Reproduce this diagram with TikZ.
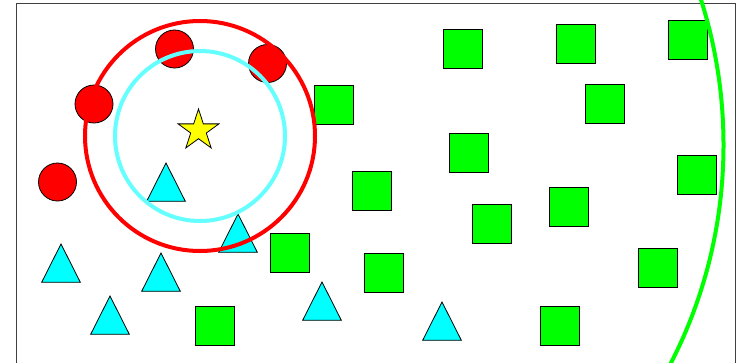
\documentclass[tikz,border=0pt]{standalone}
\usepackage{tikz}
\usetikzlibrary{shapes.geometric}
\definecolor{ringcyan}{RGB}{102,255,255}
\definecolor{tricyan}{RGB}{0,255,255}
\definecolor{starfill}{RGB}{255,255,0}
\tikzset{
  dot/.style={circle, draw, fill=red, minimum size=38pt, inner sep=0pt, line width=0.8pt},
  box/.style={rectangle, draw, fill=green, minimum size=39pt, inner sep=0pt, line width=0.8pt},
  tri/.style={draw, fill=tricyan, line width=0.8pt, line join=miter},
  ring/.style={line width=4pt}
}

\begin{document}
\begin{tikzpicture}[x=1pt, y=-1pt]
    \useasboundingbox (0,0) rectangle (738,362);
    \clip (0,0) rectangle (738,362);
    \draw[black!75, line width=1pt] (16,3) rectangle (735,390);
    % red dots
    \node[dot] (d1) at (174.5,49) {};
    \node[dot] (d2) at (267.5,63.5) {};
    \node[dot] (d3) at (94,104) {};
    \node[dot] (d4) at (57.5,182) {};
    % green boxes
    \node[box] (b1) at (334,105) {};
    \node[box] (b2) at (372,191) {};
    \node[box] (b3) at (463,49) {};
    \node[box] (b4) at (576,44) {};
    \node[box] (b5) at (688,40) {};
    \node[box] (b6) at (605,104) {};
    \node[box] (b7) at (469,153) {};
    \node[box] (b8) at (697,175) {};
    \node[box] (b9) at (290,253) {};
    \node[box] (b10) at (384,273) {};
    \node[box] (b11) at (215,326) {};
    \node[box] (b12) at (492,224) {};
    \node[box] (b13) at (569,207) {};
    \node[box] (b14) at (658,268) {};
    \node[box] (b15) at (560,326) {};
    % cyan triangles, apex first
    \coordinate (t1) at (61,244);
    \coordinate (t2) at (166,163);
    \coordinate (t3) at (238,214);
    \coordinate (t4) at (161,253);
    \coordinate (t5) at (110,296);
    \coordinate (t6) at (322,282);
    \coordinate (t7) at (442,302);
    \draw[tri] (t1) -- ++(-19.35,38.3) -- ++(38.7,0) -- cycle;
    \draw[tri] (t2) -- ++(-19.35,38.3) -- ++(38.7,0) -- cycle;
    \draw[tri] (t3) -- ++(-19.35,38.3) -- ++(38.7,0) -- cycle;
    \draw[tri] (t4) -- ++(-19.35,38.3) -- ++(38.7,0) -- cycle;
    \draw[tri] (t5) -- ++(-19.35,38.3) -- ++(38.7,0) -- cycle;
    \draw[tri] (t6) -- ++(-19.35,38.3) -- ++(38.7,0) -- cycle;
    \draw[tri] (t7) -- ++(-19.35,38.3) -- ++(38.7,0) -- cycle;
    % star and rings
    \node[star, star points=5, star point ratio=2.618, minimum size=43pt, inner sep=0pt,
          draw, fill=starfill, line width=0.8pt] (s) at (198.5,130.5) {};
    \coordinate (c) at (200,136);
    \draw[ring, red] (c) circle[radius=115];
    \draw[ring, ringcyan] (c) circle[radius=85];
    \draw[ring, green] (246,145) circle[radius=477.5];
  \end{tikzpicture}
\end{document}
